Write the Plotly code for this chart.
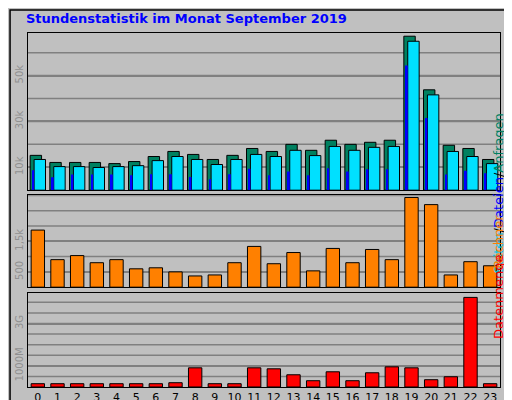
import plotly.graph_objects as go

hours = list(range(24))
hits = [15.2, 12.1, 12.1, 12.1, 11.6, 12.5, 14.7, 16.9, 15.6, 13.4, 15.2, 18.2,
        16.9, 20.0, 17.4, 21.8, 20.0, 20.9, 21.8, 67.2, 43.8, 19.6, 18.2, 13.4]
files = [13.4, 10.3, 10.3, 9.9, 10.3, 10.7, 12.9, 14.7, 13.4, 11.2, 13.4, 15.6,
         14.7, 17.4, 15.1, 19.1, 17.4, 18.7, 19.1, 65.0, 41.6, 16.9, 14.7, 11.6]
pages = [8.7, 5.6, 6.8, 6.8, 6.8, 6.5, 7.0, 7.0, 5.7, 4.8, 7.0, 9.4,
         6.5, 8.1, 6.5, 9.6, 8.1, 9.1, 9.1, 54.4, 31.5, 6.8, 8.5, 7.4]
sites = [1867, 900, 1033, 800, 900, 600, 633, 500, 367, 400, 800, 1333,
         767, 1133, 533, 1267, 800, 1233, 900, 2933, 2700, 400, 833, 700]
volume = [156, 156, 156, 156, 156, 156, 156, 203, 906, 156, 156, 906,
          860, 578, 297, 719, 297, 672, 953, 906, 344, 484, 4234, 156]

hits_k = [v * 1000 for v in hits]
files_k = [v * 1000 for v in files]
pages_k = [v * 1000 for v in pages]

BG = "#c0c0c0"
GRID = "#808080"
edge = dict(color="black", width=1)

fig = go.Figure()
fig.add_bar(x=hours, y=hits_k, width=0.58, offset=-0.39, marker=dict(color="#008060", line=edge),
            xaxis="x", yaxis="y")
fig.add_bar(x=hours, y=files_k, width=0.58, offset=-0.19, marker=dict(color="#00e0ff", line=edge),
            xaxis="x", yaxis="y")
fig.add_bar(x=hours, y=pages_k, width=0.1, offset=-0.29, marker=dict(color="#0000ff", line=dict(width=0)),
            xaxis="x", yaxis="y")
fig.add_bar(x=hours, y=sites, width=0.68, marker=dict(color="#ff8000", line=edge),
            xaxis="x2", yaxis="y2")
fig.add_bar(x=hours, y=volume, width=0.68, marker=dict(color="#ff0000", line=edge),
            xaxis="x3", yaxis="y3")

xcommon = dict(range=[-0.5, 23.5], showgrid=False, zeroline=False, showline=True,
               linecolor="black", mirror=True, ticks="", automargin=False)
ycommon = dict(showgrid=True, gridcolor=GRID, gridwidth=1.5, zeroline=False, showline=True,
               linecolor="black", mirror=True, tickangle=-90, automargin=False, ticklen=0,
               tickfont=dict(family="DejaVu Sans", size=10, color="#909090"))

fig.update_layout(
    width=512, height=400,
    paper_bgcolor=BG, plot_bgcolor=BG,
    margin=dict(l=20, r=20, t=25, b=21, autoexpand=False),
    barmode="overlay", showlegend=False,
    font=dict(family="DejaVu Sans", size=11, color="black"),
    xaxis=dict(xcommon, domain=[0, 1], anchor="y", showticklabels=False),
    xaxis2=dict(xcommon, domain=[0, 1], anchor="y2", showticklabels=False),
    xaxis3=dict(xcommon, domain=[0, 1], anchor="y3", tickvals=hours,
                tickfont=dict(family="DejaVu Sans", size=11, color="black")),
    yaxis=dict(ycommon, domain=[0.556, 1.0], range=[0, 68600],
               tickvals=[10000, 30000, 50000], ticktext=["10k", "30k", "50k"]),
    yaxis2=dict(ycommon, domain=[0.282, 0.542], range=[0, 3010],
                tickvals=[500, 1500], ticktext=["500", "1,5k"]),
    yaxis3=dict(ycommon, domain=[0, 0.266], range=[0, 4450],
                tickvals=[1000, 3000], ticktext=["1000M", "3G"]),
    title=dict(text="<b>Stundenstatistik im Monat September 2019</b>", x=0.035, xanchor="left",
               y=0.985, yanchor="top", font=dict(family="DejaVu Sans", size=13, color="#0000ff")),
)

# gridlines every step (tickvals only label some)
for ax, step, top in (("y", 10000, 68600), ("y2", 500, 3010), ("y3", 500, 4450)):
    v = step
    while v < top:
        fig.add_shape(type="line", xref="x domain", yref=ax, x0=0, x1=1, y0=v, y1=v,
                      line=dict(color=GRID, width=1.5), layer="below")
        v += step

fig.add_annotation(text="<span style='color:#00c0e0'>Seiten</span>/<span style='color:#0000ff'>Dateien</span>/"
                        "<span style='color:#008060'>Anfragen</span>",
                   xref="paper", yref="paper", x=1.018, y=0.778, textangle=-90, showarrow=False,
                   font=dict(family="DejaVu Sans", size=13))
fig.add_annotation(text="Rechner", xref="paper", yref="paper", x=1.018, y=0.41, textangle=-90,
                   showarrow=False, font=dict(family="DejaVu Sans", size=13, color="#ff8000"))
fig.add_annotation(text="Datenmenge", xref="paper", yref="paper", x=1.018, y=0.13, textangle=-90,
                   showarrow=False, font=dict(family="DejaVu Sans", size=13, color="#ff0000"))

# outer frame with shadow
fig.add_shape(type="rect", xref="paper", yref="paper", x0=-0.038, x1=1.038, y0=-0.054, y1=1.065,
              line=dict(color="black", width=1.5), fillcolor="rgba(0,0,0,0)")
fig.add_shape(type="line", xref="paper", yref="paper", x0=-0.03, x1=1.033, y0=-0.047, y1=-0.047,
              line=dict(color="#808080", width=3))
fig.add_shape(type="line", xref="paper", yref="paper", x0=1.031, x1=1.031, y0=-0.047, y1=1.058,
              line=dict(color="#808080", width=3))

fig.write_html("out.html")
